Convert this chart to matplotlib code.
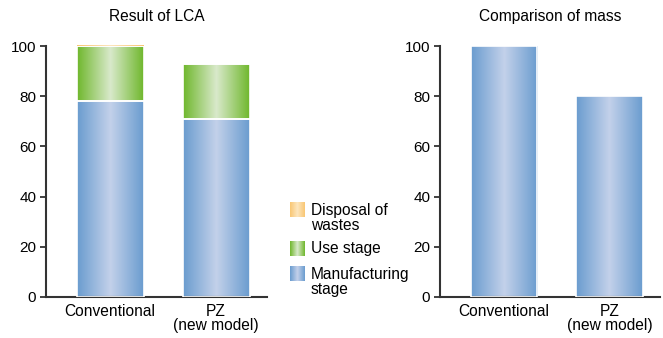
import matplotlib.pyplot as plt
import numpy as np
from matplotlib.colors import LinearSegmentedColormap
from matplotlib.patches import Rectangle

plt.rcParams['font.family'] = ['Liberation Sans', 'DejaVu Sans']

# LCA result (relative, conventional = 100)
categories = ["Conventional", "PZ\n(new model)"]
manufacturing = [78, 71]
use_stage = [22, 22]
disposal = [0.4, 0.3]

# mass comparison (relative, conventional = 100)
mass = [100, 80]

legend_labels = ["Disposal of\nwastes", "Use stage", "Manufacturing\nstage"]

# edge colour, centre colour for the shaded bars
shades = {
    "blue": ("#6a9ccf", "#c3d1ea"),
    "green": ("#6fb72c", "#d9e9cb"),
    "orange": ("#f9c673", "#fde6be"),
}

W, H = 663, 338


def shade_cmap(name):
    edge, centre = shades[name]
    return LinearSegmentedColormap.from_list(name, [edge, centre, edge])


grad = np.linspace(0, 1, 256).reshape(1, -1)


def shaded_bars(ax, x, heights, bottoms, name, width=0.63):
    bars = ax.bar(x, heights, width, bottom=bottoms, color="none",
                  edgecolor="white", linewidth=1.2, zorder=3)
    for b in bars:
        x0, y0 = b.get_x(), b.get_y()
        im = ax.imshow(grad, cmap=shade_cmap(name), aspect="auto",
                       extent=(x0, x0 + b.get_width(), y0, y0 + b.get_height()),
                       zorder=2)
        im.set_clip_path(b)
    return bars


def style_axes(ax, title):
    ax.set_xlim(-0.605, 1.48)
    ax.set_ylim(0, 100)
    ax.set_yticks([0, 20, 40, 60, 80, 100])
    ax.set_xticks([0, 1])
    ax.set_xticklabels(categories, fontsize=11.2, linespacing=0.95)
    ax.tick_params(axis="y", labelsize=11, length=4.5, width=1.3,
                   color="#333333", pad=2.5)
    ax.tick_params(axis="x", length=0, pad=5)
    for side in ["top", "right"]:
        ax.spines[side].set_visible(False)
    for side in ["left", "bottom"]:
        ax.spines[side].set_color("#333333")
        ax.spines[side].set_linewidth(1.5)
    ax.set_title(title, fontsize=11.2, pad=18)


def px_axes(x0, y0, x1, y1):
    # axes placed by pixel box (top-left origin)
    return fig.add_axes([x0 / W, 1 - y1 / H, (x1 - x0) / W, (y1 - y0) / H])


fig = plt.figure(figsize=(W / 100, H / 100), dpi=100)

x = np.arange(len(categories))

# left: LCA result, stacked by stage
ax1 = px_axes(46, 46, 267, 297)
bottom_use = np.array(manufacturing)
bottom_disp = bottom_use + np.array(use_stage)
shaded_bars(ax1, x, manufacturing, 0, "blue")
shaded_bars(ax1, x, use_stage, bottom_use, "green")
shaded_bars(ax1, x, disposal, bottom_disp, "orange")
style_axes(ax1, "Result of LCA")

# right: mass comparison
ax2 = px_axes(440, 46, 660, 297)
shaded_bars(ax2, x, mass, 0, "blue")
style_axes(ax2, "Comparison of mass")

# legend with shaded swatches, laid out in pixel units
lax = px_axes(280, 190, 430, 300)
lax.set_xlim(280, 430)
lax.set_ylim(300, 190)
lax.axis("off")
rows = [("orange", 202, 218), ("green", 241, 249), ("blue", 266, 282)]
for (name, sy, ty), label in zip(rows, legend_labels):
    sw = Rectangle((290, sy), 15, 15, facecolor="none", edgecolor="none")
    lax.add_patch(sw)
    im = lax.imshow(grad, cmap=shade_cmap(name), aspect="auto",
                    extent=(290, 305, sy + 15, sy), zorder=2)
    im.set_clip_path(sw)
    lax.text(311, ty, label, fontsize=11.2, va="center", ha="left",
             linespacing=0.95)

fig.savefig("out.png", dpi=100)
